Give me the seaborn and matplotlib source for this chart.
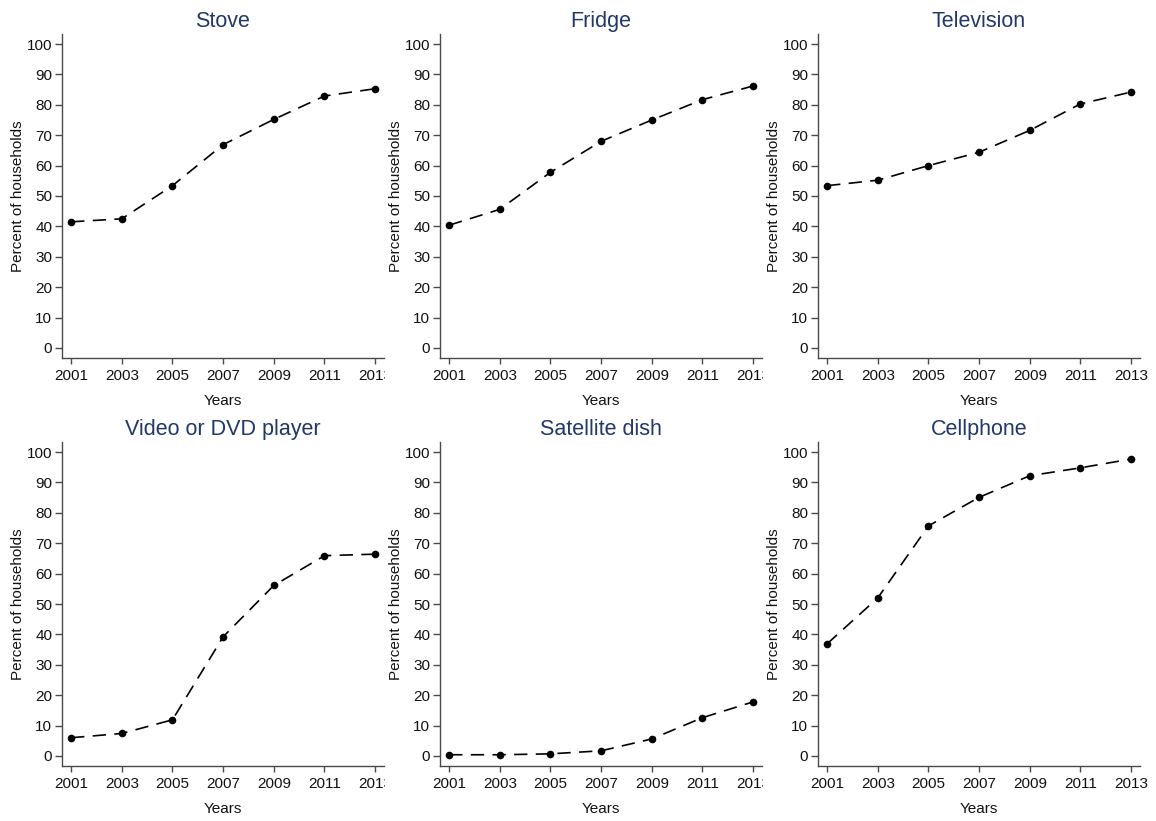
import matplotlib
matplotlib.use("Agg")
import matplotlib.pyplot as plt
from matplotlib.transforms import Bbox, TransformedBbox
import seaborn as sns
import pandas as pd

# Household ownership of durable goods, percent of households
years = [2001, 2003, 2005, 2007, 2009, 2011, 2013]
stove = [41.5, 42.5, 53.4, 66.9, 75.2, 82.9, 85.3]
fridge = [40.4, 45.6, 57.8, 68.0, 75.0, 81.7, 86.2]
television = [53.4, 55.2, 60.0, 64.4, 71.6, 80.3, 84.2]
video_dvd = [6.0, 7.4, 11.9, 39.2, 56.1, 65.9, 66.4]
satellite = [0.4, 0.4, 0.7, 1.7, 5.6, 12.6, 17.8]
cellphone = [36.9, 52.0, 75.7, 85.1, 92.2, 94.8, 97.7]

titles = ["Stove", "Fridge", "Television",
          "Video or DVD player", "Satellite dish", "Cellphone"]
series = [stove, fridge, television, video_dvd, satellite, cellphone]
y_ticks = list(range(0, 101, 10))

frames = [pd.DataFrame({"item": t, "year": years, "pct": v})
          for t, v in zip(titles, series)]
df = pd.concat(frames, ignore_index=True)

sns.set_theme(style="ticks")
plt.rcParams["font.family"] = ["Liberation Sans", "DejaVu Sans"]

W, H = 1156, 821
fig = plt.figure(figsize=(W / 100, H / 100), dpi=100)

# panel geometry in pixels (left, top) of the plot region
lefts = [62, 440, 818]
tops = [34, 442]
pw, ph = 322, 324

axis_col = "#4a4a4a"
title_col = "#22386a"
text_col = "#111111"

for i, name in enumerate(titles):
    r, c = divmod(i, 3)
    x0, y0 = lefts[c], tops[r]
    ax = fig.add_axes([x0 / W, 1 - (y0 + ph) / H, pw / W, ph / H])
    sub = df[df["item"] == name]
    sns.lineplot(data=sub, x="year", y="pct", ax=ax, color="black",
                 linewidth=1.2, marker="o", markersize=5.5,
                 markeredgewidth=0, markerfacecolor="black",
                 dashes=False, errorbar=None)
    ax.lines[0].set_dashes([8, 5])
    ax.set_xlim(2000.64, 2013.35)
    ax.set_ylim(-3.3, 103.3)
    ax.set_xticks(years)
    ax.set_xticklabels([str(y) for y in years])
    ax.set_yticks(y_ticks)
    ax.set_yticklabels([str(v) for v in y_ticks])
    for side in ("top", "right"):
        ax.spines[side].set_visible(False)
    for side in ("left", "bottom"):
        ax.spines[side].set_color(axis_col)
        ax.spines[side].set_linewidth(1.0)
    ax.tick_params(axis="y", length=5, width=1.0, color=axis_col,
                   labelsize=11, pad=2, labelcolor=text_col)
    ax.tick_params(axis="x", length=4.5, width=1.0, color=axis_col,
                   labelsize=11, pad=3.5, labelcolor=text_col)
    ax.set_xlabel("Years", fontsize=11, labelpad=8, color=text_col)
    ax.set_ylabel("Percent of households", fontsize=11, labelpad=1.5,
                  color=text_col)
    ax.set_title(name, fontsize=15.5, color=title_col, pad=5)
    ax.grid(False)
    # the neighbouring panel covers anything past this panel's right edge
    if c < 2:
        clip = TransformedBbox(Bbox([[0, 0], [(x0 + pw + 1) / W, 1]]),
                               fig.transFigure)
        for lab in ax.get_xticklabels():
            lab.set_clip_box(clip)
            lab.set_clip_on(True)

fig.savefig("out.png", dpi=100, facecolor="white")
